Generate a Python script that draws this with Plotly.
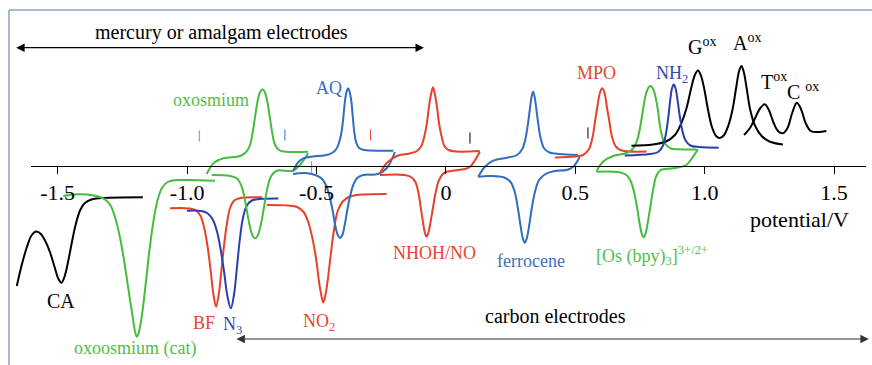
import plotly.graph_objects as go

# ---------------- data (potential / V, current / arbitrary units) ----------------
CA_V = [-1.658, -1.640, -1.619, -1.600, -1.582, -1.565, -1.548, -1.530, -1.512, -1.497, -1.486, -1.474, -1.460, -1.445, -1.430, -1.413, -1.395, -1.370, -1.340, -1.171]
CA_I = [-12.0, -10.0, -8.1, -6.9, -6.55, -6.8, -7.5, -8.6, -10.1, -11.3, -11.67, -11.1, -9.6, -7.6, -5.8, -4.4, -3.7, -3.35, -3.22, -3.13]

OXCAT_V = [-1.478, -1.426, -1.360, -1.320, -1.297, -1.280, -1.263, -1.245, -1.228, -1.212, -1.200, -1.194, -1.187, -1.175, -1.160, -1.145, -1.128, -1.112, -1.095, -1.075, -1.050, -1.001, -0.892]
OXCAT_I = [-3.0, -2.83, -2.95, -3.3, -3.9, -5.0, -6.7, -9.2, -12.1, -14.8, -16.7, -17.07, -16.7, -15.0, -11.8, -8.3, -5.2, -3.2, -2.1, -1.6, -1.42, -1.4, -1.47]

OXOS_OX_V = [-0.924, -0.898, -0.860, -0.795, -0.770, -0.757, -0.747, -0.737, -0.726, -0.717, -0.709, -0.701, -0.692, -0.681, -0.671, -0.660, -0.645, -0.625, -0.583, -0.533]
OXOS_OX_I = [-0.8, 0.27, 0.77, 1.0, 1.45, 2.1, 3.3, 5.0, 6.7, 7.45, 7.67, 7.45, 6.7, 5.0, 3.3, 2.1, 1.6, 1.45, 1.4, 1.43]
OXOS_RED_V = [-0.905, -0.834, -0.808, -0.789, -0.776, -0.764, -0.752, -0.744, -0.737, -0.730, -0.722, -0.710, -0.699, -0.688, -0.675, -0.654, -0.590, -0.564, -0.532]
OXOS_RED_I = [-0.9, -1.0, -1.23, -2.07, -3.5, -5.2, -6.6, -7.1, -7.23, -7.1, -6.6, -5.2, -3.5, -2.0, -1.0, -0.47, -0.47, 0.1, 1.27]

AQ_OX_V = [-0.590, -0.570, -0.551, -0.514, -0.470, -0.440, -0.422, -0.410, -0.402, -0.395, -0.389, -0.383, -0.378, -0.373, -0.366, -0.360, -0.354, -0.346, -0.335, -0.315, -0.293, -0.203]
AQ_OX_I = [-0.5, 0.4, 0.77, 0.95, 1.05, 1.3, 1.75, 2.6, 3.6, 5.2, 6.7, 7.5, 7.77, 7.5, 6.6, 5.0, 3.4, 2.3, 1.8, 1.6, 1.55, 1.53]
AQ_RED_V = [-0.591, -0.544, -0.500, -0.478, -0.462, -0.450, -0.438, -0.428, -0.418, -0.409, -0.400, -0.391, -0.381, -0.370, -0.358, -0.343, -0.320, -0.263, -0.228, -0.197]
AQ_RED_I = [-0.8, -0.7, -0.95, -1.3, -2.0, -3.0, -4.4, -5.9, -6.9, -7.2, -6.9, -5.9, -4.4, -3.0, -1.9, -1.2, -0.9, -0.8, -0.2, 1.4]

NHOH_OX_V = [-0.255, -0.229, -0.190, -0.140, -0.112, -0.095, -0.083, -0.074, -0.066, -0.058, -0.050, -0.042, -0.034, -0.026, -0.017, -0.006, 0.010, 0.040, 0.131]
NHOH_OX_I = [-0.73, 0.27, 1.0, 1.25, 1.5, 2.0, 3.0, 4.2, 5.8, 7.1, 7.87, 7.1, 5.8, 4.2, 3.0, 2.0, 1.6, 1.45, 1.5]
NHOH_RED_V = [-0.255, -0.160, -0.135, -0.118, -0.106, -0.097, -0.088, -0.081, -0.075, -0.068, -0.060, -0.050, -0.040, -0.028, -0.012, 0.003, 0.067, 0.093, 0.131]
NHOH_RED_I = [-0.9, -0.9, -1.1, -1.6, -2.7, -4.2, -5.7, -6.7, -7.07, -6.7, -5.7, -4.2, -2.7, -1.5, -0.8, -0.57, -0.33, -0.07, 1.43]

FC_OX_V = [0.125, 0.151, 0.183, 0.240, 0.275, 0.295, 0.308, 0.318, 0.325, 0.331, 0.337, 0.343, 0.349, 0.356, 0.366, 0.380, 0.400, 0.440, 0.510]
FC_OX_I = [-1.07, -0.07, 0.53, 0.85, 1.1, 1.7, 2.8, 4.4, 5.8, 6.9, 7.43, 6.9, 5.8, 4.4, 2.8, 1.75, 1.35, 1.2, 1.1]
FC_RED_V = [0.125, 0.170, 0.225, 0.250, 0.266, 0.278, 0.288, 0.297, 0.305, 0.313, 0.322, 0.332, 0.344, 0.360, 0.385, 0.420, 0.466, 0.492, 0.517]
FC_RED_I = [-1.07, -1.0, -1.15, -1.6, -2.6, -4.2, -5.9, -7.2, -7.67, -7.2, -5.9, -4.2, -2.6, -1.4, -0.8, -0.5, -0.4, -0.07, 0.9]

MPO_V = [0.421, 0.500, 0.530, 0.553, 0.566, 0.576, 0.585, 0.595, 0.604, 0.613, 0.622, 0.632, 0.643, 0.658, 0.680, 0.775]
MPO_I = [0.85, 0.95, 1.1, 1.7, 2.8, 4.4, 5.9, 7.3, 7.77, 7.3, 5.9, 4.4, 2.8, 1.9, 1.55, 1.45]

OS_OX_V = [0.582, 0.607, 0.646, 0.698, 0.722, 0.738, 0.750, 0.762, 0.773, 0.783, 0.792, 0.801, 0.810, 0.819, 0.830, 0.845, 0.870, 0.903, 0.969]
OS_OX_I = [-0.5, 0.43, 1.0, 1.3, 1.7, 2.5, 3.8, 5.7, 7.2, 7.85, 8.0, 7.7, 6.9, 5.6, 3.6, 2.3, 1.75, 1.67, 1.65]
OS_RED_V = [0.582, 0.665, 0.695, 0.712, 0.725, 0.737, 0.747, 0.756, 0.764, 0.772, 0.781, 0.791, 0.801, 0.813, 0.830, 0.878, 0.929, 0.955, 0.974]
OS_RED_I = [-0.57, -0.6, -0.85, -1.4, -2.4, -3.9, -5.5, -6.7, -7.13, -6.7, -5.5, -3.9, -2.3, -1.0, -0.4, -0.23, 0.1, 0.93, 1.67]

NH2_V = [0.691, 0.788, 0.820, 0.838, 0.850, 0.859, 0.866, 0.873, 0.880, 0.887, 0.895, 0.903, 0.913, 0.925, 0.945, 0.980, 1.054]
NH2_I = [1.05, 1.2, 1.4, 2.0, 3.2, 4.8, 6.4, 7.7, 8.15, 7.8, 6.6, 5.1, 3.6, 2.6, 2.05, 1.9, 1.83]

GA_V = [0.717, 0.800, 0.850, 0.885, 0.910, 0.930, 0.947, 0.962, 0.974, 0.986, 0.999, 1.013, 1.028, 1.044, 1.058, 1.075, 1.092, 1.108, 1.122, 1.133, 1.142, 1.151, 1.162, 1.176, 1.195, 1.220, 1.250, 1.302]
GA_I = [2.03, 2.15, 2.45, 3.1, 4.3, 5.8, 7.7, 9.1, 9.55, 9.0, 7.6, 5.6, 3.9, 3.0, 2.8, 3.1, 4.1, 5.7, 7.9, 9.5, 10.0, 9.4, 7.8, 5.6, 4.0, 3.0, 2.45, 2.15]

TC_V = [1.152, 1.175, 1.197, 1.215, 1.232, 1.248, 1.265, 1.283, 1.302, 1.320, 1.338, 1.356, 1.372, 1.390, 1.410, 1.440, 1.470]
TC_I = [3.1, 3.8, 4.9, 5.8, 6.17, 5.6, 4.4, 3.5, 3.27, 3.8, 5.3, 6.33, 5.7, 4.3, 3.5, 3.4, 3.5]

BF_V = [-1.066, -0.990, -0.965, -0.948, -0.933, -0.920, -0.908, -0.898, -0.888, -0.878, -0.868, -0.858, -0.847, -0.834, -0.818, -0.795, -0.710]
BF_I = [-4.23, -4.25, -4.45, -5.0, -6.3, -8.2, -10.7, -12.9, -14.07, -12.9, -10.6, -8.1, -5.9, -4.2, -3.45, -3.2, -3.13]

N3_V = [-1.001, -0.945, -0.920, -0.900, -0.884, -0.870, -0.857, -0.845, -0.831, -0.819, -0.808, -0.797, -0.785, -0.770, -0.750, -0.720, -0.647]
N3_I = [-4.47, -4.5, -4.75, -5.4, -6.6, -8.4, -10.6, -12.9, -14.23, -12.9, -10.3, -7.5, -5.3, -4.0, -3.45, -3.3, -3.25]

NO2_V = [-0.692, -0.610, -0.575, -0.550, -0.532, -0.516, -0.502, -0.489, -0.480, -0.474, -0.467, -0.457, -0.445, -0.432, -0.418, -0.400, -0.375, -0.345, -0.229]
NO2_I = [-3.9, -3.95, -4.1, -4.6, -5.6, -7.2, -9.2, -11.8, -13.1, -13.65, -13.1, -11.5, -8.9, -6.3, -4.5, -3.6, -3.1, -2.9, -2.8]

MARK_V = [-0.953, -0.622, -0.291, 0.093, 0.549, -0.519]
MARK_I = [3.0, 3.1, 3.1, 2.8, 3.3, -0.1]

TICK_VALS = [-1.5, -1.0, -0.5, 0, 0.5, 1.0, 1.5]
TICK_TEXT = ["-1.5", "-1.0", "-0.5", "0", "0.5", "1.0", "1.5"]

# ---------------- styling ----------------
FONT = "Liberation Serif, Times New Roman, serif"
GREEN = "#46bc3e"
RED = "#e8402a"
BLUE = "#2f6dbf"
DBLUE = "#2a3fae"
BLACK = "#000000"
GREEN_T = "#4fbf48"
RED_T = "#e8442e"
BLUE_T = "#3a6fc0"
DBLUE_T = "#3448b0"

W, H = 872, 365
PX_PER_V = 258.8
ZERO_PX = 445.9
AXIS_PY = 166
I_PER_PX = 0.1

x_range = [(0 - ZERO_PX) / PX_PER_V, (W - ZERO_PX) / PX_PER_V]
y_range = [-(H - AXIS_PY) * I_PER_PX, AXIS_PY * I_PER_PX]
ax_l, ax_r = 31, 866
x2_range = [(ax_l - ZERO_PX) / PX_PER_V, (ax_r - ZERO_PX) / PX_PER_V]
axis_pos = (0 - y_range[0]) / (y_range[1] - y_range[0])

fig = go.Figure()

curves = [
    (CA_V, CA_I, BLACK),
    (OXCAT_V, OXCAT_I, GREEN),
    (BF_V, BF_I, RED),
    (N3_V, N3_I, DBLUE),
    (OXOS_OX_V, OXOS_OX_I, GREEN),
    (OXOS_RED_V, OXOS_RED_I, GREEN),
    (NO2_V, NO2_I, RED),
    (AQ_OX_V, AQ_OX_I, BLUE),
    (AQ_RED_V, AQ_RED_I, BLUE),
    (NHOH_OX_V, NHOH_OX_I, RED),
    (NHOH_RED_V, NHOH_RED_I, RED),
    (FC_OX_V, FC_OX_I, BLUE),
    (FC_RED_V, FC_RED_I, BLUE),
    (MPO_V, MPO_I, RED),
    (OS_OX_V, OS_OX_I, GREEN),
    (OS_RED_V, OS_RED_I, GREEN),
    (GA_V, GA_I, BLACK),
    (TC_V, TC_I, BLACK),
    (NH2_V, NH2_I, DBLUE),
]
for xv, yv, col in curves:
    fig.add_trace(go.Scatter(x=xv, y=yv, mode="lines",
                             line=dict(color=col, width=2, shape="spline", smoothing=1.0),
                             hoverinfo="skip", showlegend=False))

mark_cols = [GREEN, BLUE, RED, BLACK, BLACK, GREEN]
fig.add_trace(go.Scatter(x=MARK_V, y=MARK_I, mode="markers", xaxis="x2", yaxis="y",
                         marker=dict(symbol="line-ns", size=8,
                                     line=dict(color=mark_cols, width=1)),
                         hoverinfo="skip", showlegend=False))

def lab(text, x, y, color, size):
    fig.add_annotation(text=text, x=x, y=y, xref="x", yref="y", showarrow=False,
                       font=dict(family=FONT, size=size, color=color))

lab("mercury or amalgam electrodes", -0.869, 13.4, BLACK, 20)
lab("carbon electrodes", 0.425, -15.0, BLACK, 20)
lab("oxosmium", -0.908, 6.6, GREEN_T, 18)
lab("AQ", -0.452, 7.8, BLUE_T, 18)
lab("MPO", 0.583, 9.3, RED_T, 18)
lab("NH<sub>2</sub>", 0.873, 9.2, DBLUE_T, 18)
lab("G<sup>ox</sup>", 0.989, 12.0, BLACK, 20)
lab("A<sup>ox</sup>", 1.163, 12.4, BLACK, 20)
lab("T<sup>ox</sup>", 1.267, 8.5, BLACK, 20)
lab("C <sup>ox</sup>", 1.379, 7.5, BLACK, 20)
lab("CA", -1.487, -13.5, BLACK, 20)
lab("oxoosmium (cat)", -1.201, -18.2, GREEN_T, 18)
lab("BF", -0.935, -15.7, RED_T, 18)
lab("N<sub>3</sub>", -0.825, -15.9, DBLUE_T, 18)
lab("NO<sub>2</sub>", -0.490, -15.6, RED_T, 18)
lab("NHOH/NO", -0.046, -8.7, RED_T, 18)
lab("ferrocene", 0.329, -9.5, BLUE_T, 18)
lab("[Os (bpy)<sub>3</sub>]<sup>3+/2+</sup>", 0.796, -8.9, GREEN_T, 18)
lab("potential/V", 1.368, -5.3, BLACK, 22)

# double-headed arrows
fig.add_annotation(x=-0.085, y=11.83, ax=-1.666, ay=11.83, xref="x", yref="y",
                   axref="x", ayref="y", showarrow=True, arrowside="end+start",
                   arrowhead=2, arrowsize=1.4, arrowwidth=1.2, arrowcolor=BLACK, text="")
fig.add_annotation(x=1.634, y=-17.3, ax=-0.815, ay=-17.3, xref="x", yref="y",
                   axref="x", ayref="y", showarrow=True, arrowside="end+start",
                   arrowhead=2, arrowsize=1.4, arrowwidth=1.2, arrowcolor="#333333", text="")

# frame (top and left)
FRAME = "#8aa3cb"
fig.add_shape(type="line", xref="paper", yref="paper", x0=9 / W, x1=1.02,
              y0=(H - 10) / H, y1=(H - 10) / H, line=dict(color=FRAME, width=1.5), layer="below")
fig.add_shape(type="line", xref="paper", yref="paper", x0=9 / W, x1=9 / W,
              y0=-0.02, y1=(H - 10) / H, line=dict(color=FRAME, width=1.5), layer="below")

fig.update_layout(
    width=W, height=H, margin=dict(l=0, r=0, t=0, b=0),
    paper_bgcolor="white", plot_bgcolor="rgba(0,0,0,0)",
    xaxis=dict(domain=[0, 1], range=x_range, visible=False, fixedrange=True),
    xaxis2=dict(domain=[ax_l / W, ax_r / W], range=x2_range, anchor="free",
                position=axis_pos, showline=True, linecolor=BLACK, linewidth=1,
                ticks="outside", ticklen=7, tickwidth=1, tickcolor=BLACK,
                tickvals=TICK_VALS, ticktext=TICK_TEXT, showgrid=False, zeroline=False,
                tickfont=dict(family=FONT, size=22, color=BLACK)),
    yaxis=dict(domain=[0, 1], range=y_range, visible=False, fixedrange=True),
    showlegend=False,
)

fig.write_html("out.html", config={"displayModeBar": False},
               post_script="document.body.style.margin='0';document.body.style.overflow='hidden';")
